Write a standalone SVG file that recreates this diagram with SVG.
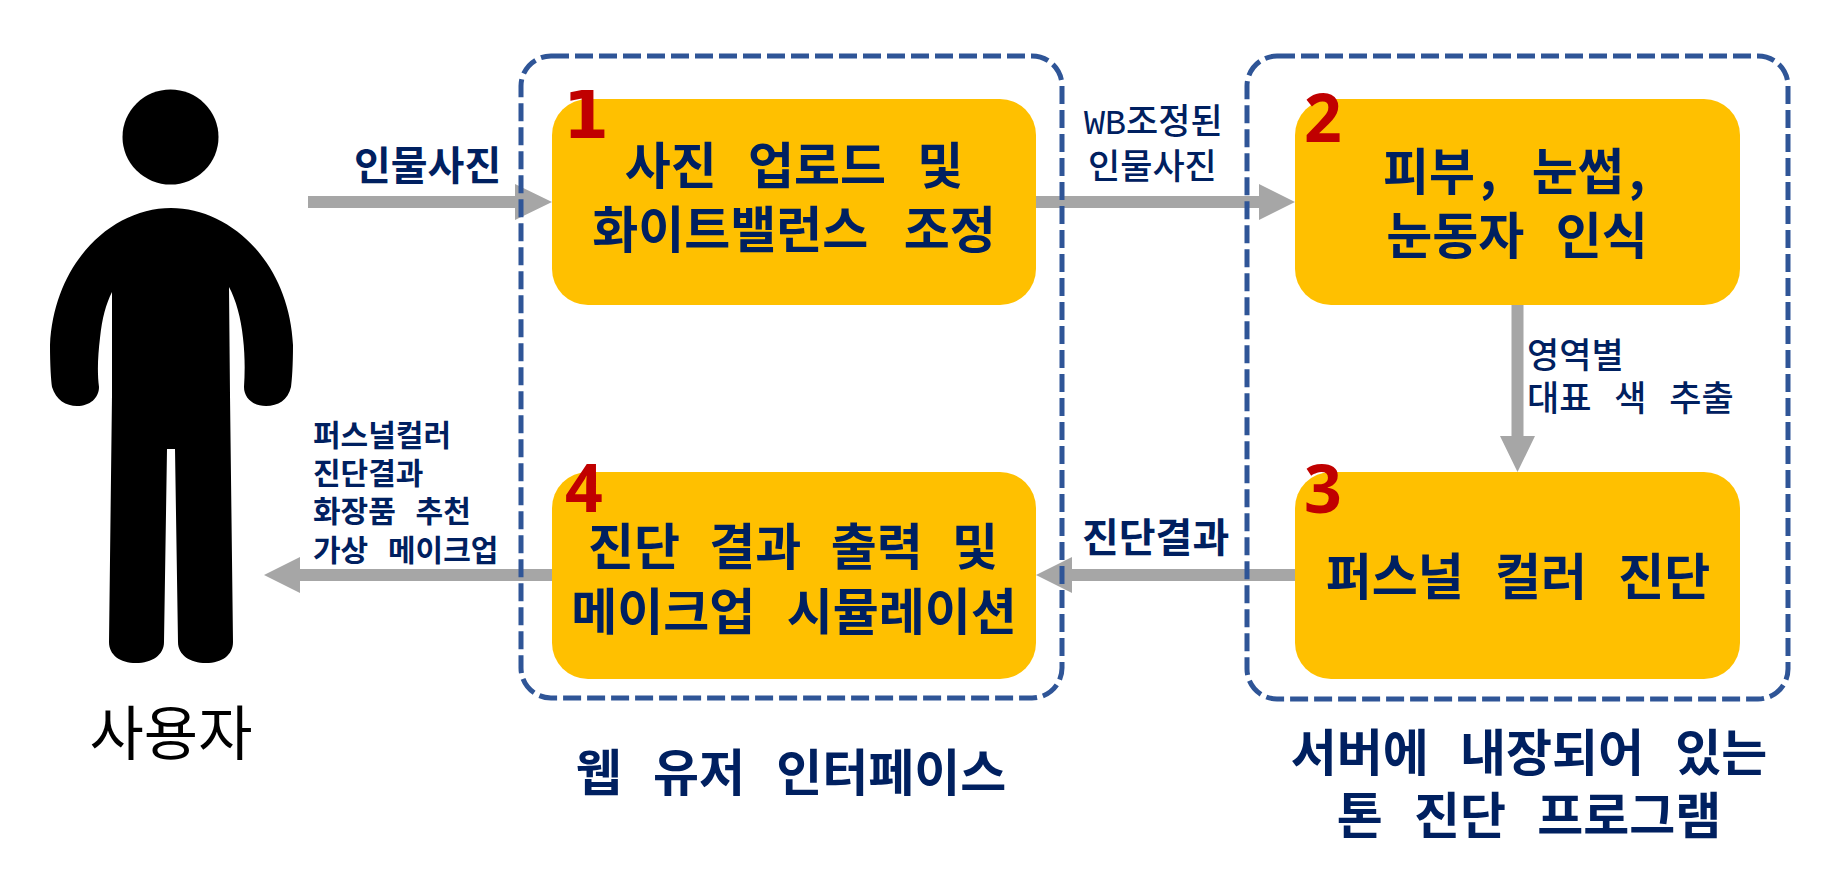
<svg xmlns="http://www.w3.org/2000/svg" width="1824" height="891" viewBox="0 0 1824 891">
<style>
text{font-family:"Noto Sans CJK KR","Noto Sans",sans-serif;fill:#002060;font-weight:700}
.box{fill:#FFC000}
.t{font-size:50px;text-anchor:middle;word-spacing:20px}
.num{font-family:"Open Sans","Liberation Sans",sans-serif;font-size:66px;fill:#C00000;font-weight:700}
.lab{font-size:40px;font-weight:700}
.sm{font-size:35px;font-weight:500;word-spacing:15px}
.li{font-size:30px;font-weight:700;word-spacing:13px}
.cap{font-size:50px;text-anchor:middle;word-spacing:20px}
.grp{fill:none;stroke:#2F5597;stroke-width:5;stroke-dasharray:18 6}
.c{fill:#A6A6A6}
</style>
<rect width="1824" height="891" fill="#fff"/>
<g id="connectors" class="c">
<path id="c1" d="M308 196H515V184L552 202L515 220V208H308Z"/>
<path id="c2" d="M1036 196H1259V184L1295 202L1259 220V208H1036Z"/>
<path id="c3" d="M1511.500 305H1523.500V436H1535L1517.500 472L1500 436H1511.500Z"/>
<path id="c4" d="M1295 569H1072V557L1036 575L1072 593V581H1295Z"/>
<path id="c5" d="M552 569H300V557L264 575L300 593V581H552Z"/>
</g>
<g id="user">
<ellipse cx="170.500" cy="137" rx="48" ry="47.500"/>
<path d="M171 208C112 208 54 262 50 345C50 365 51 380 52 387C56 400 66 406 77 406C90 406 99 398 99 387C97 372 98 355 100 338C102 318 106 304 112 292V395L109 642C109 655 120 663 136 663C152 663 164 655 164 642L167 449H175L178 642C178 655 190 663 206 663C222 663 233 655 233 642L230 395L229 287C236 300 241 318 243 338C245 355 245 372 244 387C244 398 253 406 266 406C278 406 288 400 291 387C292 380 293 365 293 345C289 262 230 208 171 208Z"/>
<text x="171" y="755" text-anchor="middle" font-size="59" style="fill:#000;font-weight:400">사용자</text>
</g>
<g id="group-web"><rect class="grp" x="521" y="56" width="541" height="642" rx="30"/>
<text class="cap" x="791" y="791">웹 유저 인터페이스</text></g>
<g id="group-server"><rect class="grp" x="1247" y="56" width="541" height="643" rx="30"/>
<text class="cap" x="1529" y="771">서버에 내장되어 있는</text>
<text class="cap" x="1529" y="834">톤 진단 프로그램</text></g>
<g id="node1"><rect class="box" x="552" y="99" width="484" height="206" rx="36"/>
<text class="t" x="794" y="184">사진 업로드 및</text>
<text class="t" x="794" y="248" style="word-spacing:24px">화이트밸런스 조정</text>
<text class="num" x="563" y="138" style="font-family:'DejaVu Sans'">1</text></g>
<g id="node2"><rect class="box" x="1295" y="99" width="445" height="206" rx="36"/>
<text class="t" x="1514" y="190" style="word-spacing:24px">피부<tspan dx="5">,</tspan> 눈썹<tspan dx="5">,</tspan></text>
<text class="t" x="1517" y="254">눈동자 인식</text>
<text class="num" x="1304" y="142">2</text></g>
<g id="node3"><rect class="box" x="1295" y="472" width="445" height="207" rx="36"/>
<text class="t" x="1518" y="595">퍼스널 컬러 진단</text>
<text class="num" x="1304" y="513">3</text></g>
<g id="node4"><rect class="box" x="552" y="472" width="484" height="207" rx="36"/>
<text class="t" x="793" y="565" style="word-spacing:18px">진단 결과 출력 및</text>
<text class="t" x="794" y="630">메이크업 시뮬레이션</text>
<text class="num" x="565" y="512">4</text></g>
<g id="labels">
<text class="lab" x="354" y="180">인물사진</text>
<text class="sm" x="1084" y="134"><tspan style="font-family:'Liberation Mono'">WB</tspan>조정된</text>
<text class="sm" x="1088" y="179">인물사진</text>
<text class="sm" x="1527" y="368">영역별</text>
<text class="sm" x="1527" y="411">대표 색 추출</text>
<text class="lab" x="1082" y="552">진단결과</text>
<text class="li" x="313" y="446">퍼스널컬러</text>
<text class="li" x="313" y="484">진단결과</text>
<text class="li" x="313" y="522">화장품 추천</text>
<text class="li" x="313" y="561">가상 메이크업</text>
</g>
</svg>
